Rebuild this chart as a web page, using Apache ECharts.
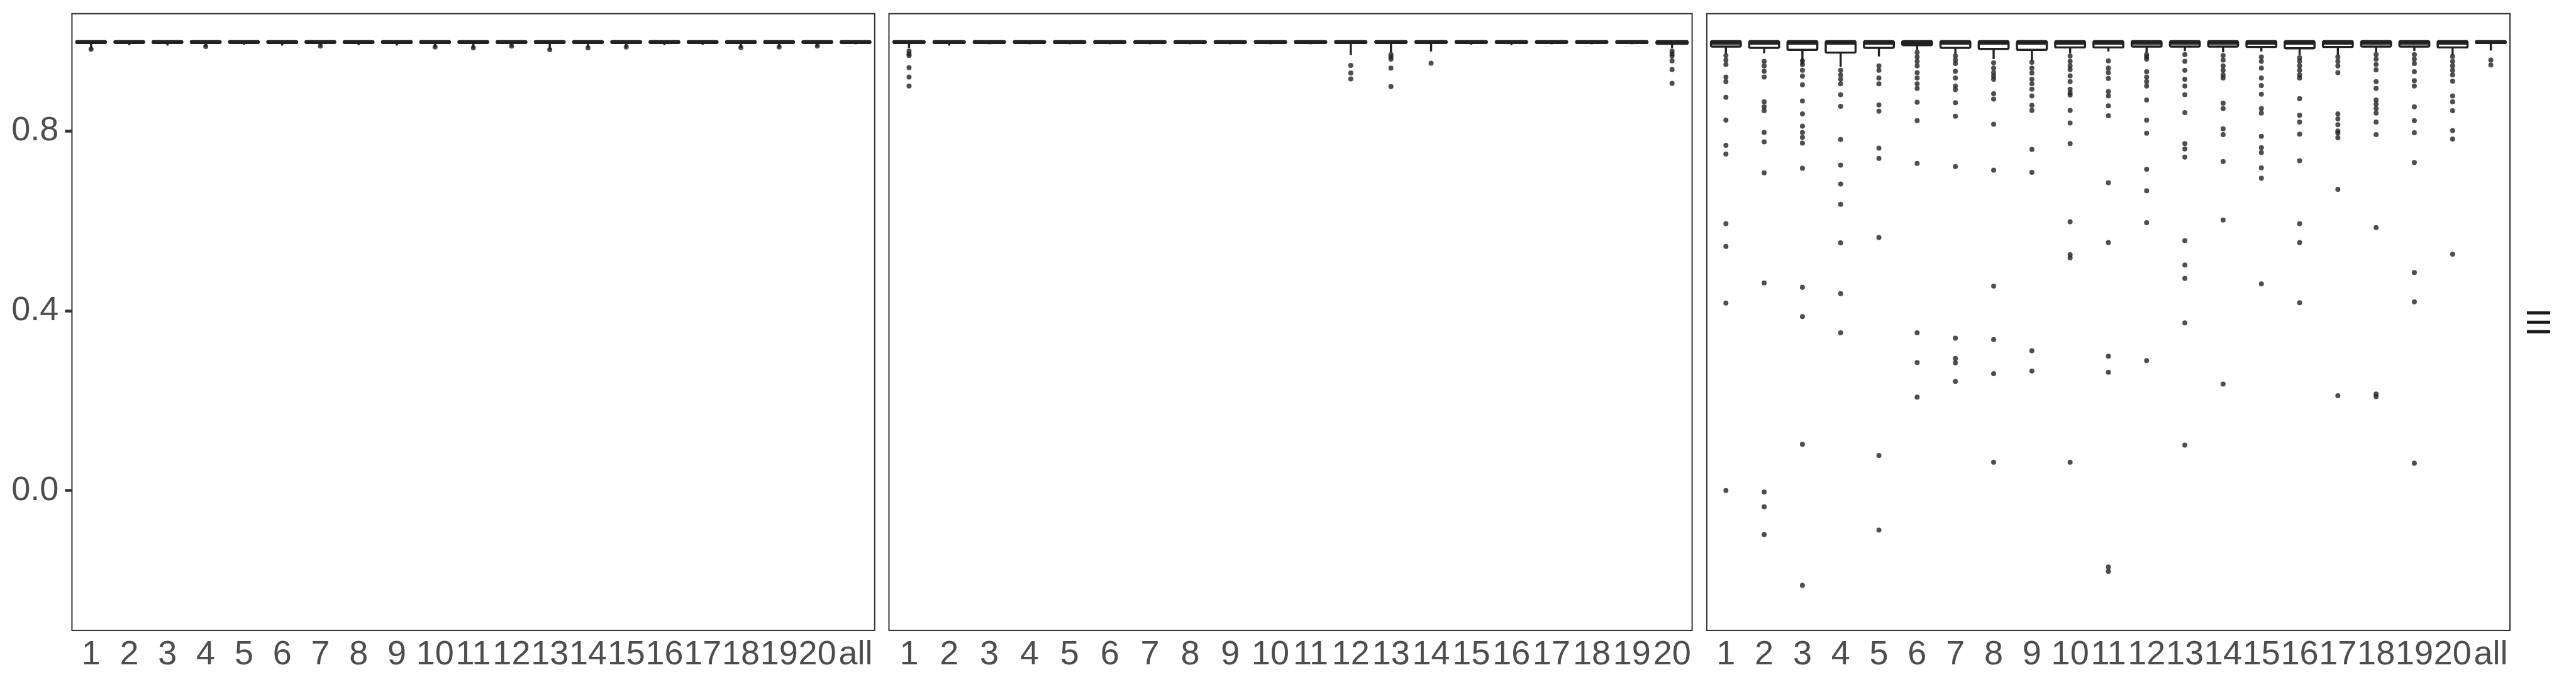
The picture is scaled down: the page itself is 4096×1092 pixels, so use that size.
<!DOCTYPE html>
<html><head><meta charset="utf-8">
<script src="https://cdn.jsdelivr.net/npm/echarts@6/dist/echarts.min.js"></script>
<style>html,body{margin:0;padding:0;background:#fff}#c{width:4096px;height:1092px}</style>
</head><body><div id="c"></div>
<script>
// ---------- categories & ticks ----------
const cats20 = ['1','2','3','4','5','6','7','8','9','10','11','12','13','14','15','16','17','18','19','20'];
const catsAll = cats20.concat(['all']);
const yTicks = [0, 0.4, 0.8];
const stripLabel = 'III';

// ---------- panel 1 (21 groups) ----------
const p1Low  = [0.981,0.991,0.990,0.987,0.992,0.990,0.988,0.991,0.990,0.986,0.984,0.988,0.980,0.984,0.986,0.991,0.992,0.985,0.986,0.988,0.993];
const p1Q1   = [0.996,0.996,0.996,0.996,0.996,0.996,0.996,0.996,0.996,0.996,0.996,0.996,0.996,0.996,0.996,0.996,0.996,0.996,0.996,0.996,0.996];
const p1Med  = [0.998,0.998,0.998,0.998,0.998,0.998,0.998,0.998,0.998,0.998,0.998,0.998,0.998,0.998,0.998,0.998,0.998,0.998,0.998,0.998,0.998];
const p1Q3   = [1,1,1,1,1,1,1,1,1,1,1,1,1,1,1,1,1,1,1,1,1];
const p1High = [1,1,1,1,1,1,1,1,1,1,1,1,1,1,1,1,1,1,1,1,1];
const p1Out  = [[0.982],[],[],[0.988],[],[],[0.989],[],[],[0.987],[0.985],[0.989],[0.981],[0.985],[0.987],[],[],[0.986],[0.987],[0.989],[]];

// ---------- panel 2 (20 groups) ----------
const p2Low  = [0.985,0.990,0.993,0.993,0.993,0.993,0.993,0.993,0.993,0.993,0.993,0.969,0.975,0.977,0.992,0.991,0.993,0.993,0.993,0.985];
const p2Q1   = [0.996,0.996,0.996,0.996,0.996,0.996,0.996,0.996,0.996,0.996,0.996,0.996,0.996,0.996,0.996,0.996,0.996,0.996,0.996,0.994];
const p2Med  = [0.998,0.998,0.998,0.998,0.998,0.998,0.998,0.998,0.998,0.998,0.998,0.998,0.998,0.998,0.998,0.998,0.998,0.998,0.998,0.998];
const p2Q3   = [1,1,1,1,1,1,1,1,1,1,1,1,1,1,1,1,1,1,1,1];
const p2High = [1,1,1,1,1,1,1,1,1,1,1,1,1,1,1,1,1,1,1,1];
const p2Out  = [
  [0.978,0.972,0.968,0.941,0.920,0.900],[],[],[],[],[],[],[],[],[],[],
  [0.946,0.929,0.916],
  [0.970,0.965,0.960,0.940,0.899],
  [0.951],
  [],[],[],[],[],
  [0.978,0.972,0.967,0.956,0.937,0.906]
];

// ---------- panel 3 (21 groups) ----------
const p3Low  = [0.973,0.973,0.948,0.943,0.966,0.980,0.971,0.960,0.956,0.973,0.977,0.975,0.978,0.975,0.977,0.969,0.969,0.975,0.978,0.969,0.979];
const p3Q1   = [0.988,0.985,0.9805,0.9745,0.985,0.991,0.985,0.9826,0.9805,0.986,0.986,0.988,0.988,0.988,0.987,0.984,0.987,0.988,0.988,0.986,0.9958];
const p3Med  = [0.996,0.996,0.996,0.996,0.996,0.996,0.996,0.996,0.996,0.996,0.996,0.996,0.996,0.996,0.996,0.996,0.996,0.996,0.996,0.996,0.998];
const p3Q3   = [1,1,1,1,1,1,1,1,1,1,1,1,1,1,1,1,1,1,1,1,1];
const p3High = [1,1,1,1,1,1,1,1,1,1,1,1,1,1,1,1,1,1,1,1,1];
const p3Out  = [
  [0.968,0.958,0.948,0.920,0.910,0.875,0.824,0.768,0.749,0.594,0.543,0.417,0.000],
  [0.955,0.945,0.933,0.920,0.865,0.854,0.845,0.797,0.776,0.707,0.462,-0.003,-0.036,-0.098],
  [0.956,0.948,0.935,0.922,0.903,0.867,0.838,0.811,0.797,0.786,0.773,0.717,0.452,0.387,0.103,-0.211],
  [0.935,0.925,0.915,0.905,0.881,0.855,0.781,0.724,0.682,0.637,0.551,0.438,0.351],
  [0.945,0.935,0.918,0.905,0.858,0.844,0.762,0.739,0.563,0.078,-0.088],
  [0.975,0.965,0.955,0.945,0.930,0.918,0.905,0.895,0.864,0.823,0.728,0.351,0.285,0.208],
  [0.967,0.958,0.950,0.933,0.918,0.900,0.892,0.863,0.833,0.721,0.339,0.294,0.284,0.243],
  [0.952,0.940,0.930,0.922,0.915,0.883,0.871,0.815,0.713,0.455,0.336,0.260,0.063],
  [0.953,0.940,0.929,0.915,0.905,0.893,0.878,0.857,0.846,0.759,0.708,0.311,0.266],
  [0.967,0.955,0.945,0.937,0.923,0.910,0.893,0.885,0.880,0.846,0.818,0.772,0.598,0.525,0.518,0.063],
  [0.956,0.940,0.930,0.917,0.888,0.878,0.856,0.834,0.685,0.552,0.299,0.263,-0.170,-0.180],
  [0.970,0.965,0.960,0.932,0.920,0.910,0.900,0.869,0.824,0.795,0.715,0.667,0.596,0.289],
  [0.970,0.955,0.935,0.915,0.900,0.881,0.841,0.772,0.760,0.742,0.556,0.502,0.472,0.373,0.101],
  [0.968,0.958,0.945,0.935,0.925,0.918,0.862,0.850,0.805,0.792,0.732,0.602,0.237],
  [0.965,0.955,0.940,0.918,0.901,0.882,0.850,0.840,0.788,0.763,0.752,0.718,0.695,0.460],
  [0.963,0.955,0.945,0.935,0.925,0.918,0.872,0.835,0.820,0.793,0.734,0.594,0.552,0.418],
  [0.965,0.955,0.945,0.930,0.838,0.827,0.814,0.800,0.795,0.785,0.670,0.211],
  [0.970,0.960,0.948,0.936,0.910,0.895,0.869,0.860,0.850,0.840,0.820,0.792,0.585,0.215,0.209],
  [0.970,0.960,0.950,0.932,0.912,0.900,0.854,0.823,0.796,0.730,0.485,0.420,0.061],
  [0.966,0.955,0.945,0.935,0.925,0.911,0.878,0.865,0.845,0.801,0.782,0.526],
  [0.958,0.947]
];

// ---------- rendering ----------
const INK = '#222222';
const TXT = '#4d4d4d';
const FONT = "'Liberation Sans', Arial, Helvetica, sans-serif";
const FS = 54;
const Y_MIN = -0.311, Y_MAX = 1.061;
const LW = 3.4;

function boxData(lo, q1, md, q3, hi) {
  return lo.map((v, i) => [i, v, q1[i], md[i], q3[i], hi[i]]);
}
function outData(out) {
  const r = [];
  out.forEach((arr, i) => arr.forEach(v => r.push([i, v])));
  return r;
}
function renderBox(params, api) {
  const x = api.value(0);
  const lo = api.coord([x, api.value(1)]);
  const q1 = api.coord([x, api.value(2)]);
  const md = api.coord([x, api.value(3)]);
  const q3 = api.coord([x, api.value(4)]);
  const hi = api.coord([x, api.value(5)]);
  const bw = api.size([1, 0])[0] * 0.78;
  const cx = q1[0];
  const ls = {stroke: INK, lineWidth: LW, lineJoin: 'round', lineCap: 'butt'};
  return {type: 'group', children: [
    {type: 'line', shape: {x1: cx, y1: q1[1], x2: cx, y2: lo[1]}, style: ls},
    {type: 'line', shape: {x1: cx, y1: q3[1], x2: cx, y2: hi[1]}, style: ls},
    {type: 'rect', shape: {x: cx - bw / 2, y: q3[1], width: bw, height: Math.max(q1[1] - q3[1], 0.5), r: 2},
      style: {fill: '#fff', stroke: INK, lineWidth: LW, lineJoin: 'round'}},
    {type: 'line', shape: {x1: cx - bw / 2, y1: md[1], x2: cx + bw / 2, y2: md[1]},
      style: {stroke: INK, lineWidth: LW * 1.7, lineCap: 'butt'}}
  ]};
}

const grids = [
  {left: 114.4, top: 21.8, width: 1276.4, height: 980.1},
  {left: 1413.5, top: 21.8, width: 1277.1, height: 980.1},
  {left: 2713.9, top: 21.8, width: 1277.1, height: 980.1}
].map(g => Object.assign(g, {show: true, borderColor: '#333333', borderWidth: 2, backgroundColor: '#fff'}));

const xCats = [catsAll, cats20, catsAll];
const xAxes = xCats.map((c, i) => ({
  type: 'category', gridIndex: i, data: c,
  axisLine: {show: false}, axisTick: {show: false}, splitLine: {show: false},
  axisLabel: {interval: 0, fontSize: FS, color: TXT, fontFamily: FONT, margin: 12, hideOverlap: false}
}));
const yAxes = [0, 1, 2].map(i => ({
  type: 'value', gridIndex: i, min: Y_MIN, max: Y_MAX,
  splitLine: {show: false},
  axisLine: {show: false},
  axisTick: {show: i === 0, length: 11, lineStyle: {color: '#333333', width: 4.5}, customValues: yTicks},
  axisLabel: {show: i === 0, fontSize: FS, color: TXT, fontFamily: FONT, margin: 21,
    customValues: yTicks, formatter: v => Number(v).toFixed(1)}
}));

const panels = [
  {box: boxData(p1Low, p1Q1, p1Med, p1Q3, p1High), out: outData(p1Out)},
  {box: boxData(p2Low, p2Q1, p2Med, p2Q3, p2High), out: outData(p2Out)},
  {box: boxData(p3Low, p3Q1, p3Med, p3Q3, p3High), out: outData(p3Out)}
];
const series = [];
panels.forEach((p, i) => {
  series.push({
    type: 'scatter', xAxisIndex: i, yAxisIndex: i, data: p.out,
    symbol: 'circle', symbolSize: 8, itemStyle: {color: INK}, silent: true, z: 2
  });
  series.push({
    type: 'custom', xAxisIndex: i, yAxisIndex: i, data: p.box,
    encode: {x: 0, y: [1, 2, 3, 4, 5]}, renderItem: renderBox, silent: true, z: 3
  });
});

const chart = echarts.init(document.getElementById('c'), null, {renderer: 'canvas'});
chart.setOption({
  animation: false,
  backgroundColor: '#fff',
  grid: grids,
  xAxis: xAxes,
  yAxis: yAxes,
  series: series,
  graphic: [{
    type: 'text', x: 4033, y: 512.3, rotation: -Math.PI / 2,
    style: {text: stripLabel, fontSize: FS, fontFamily: FONT, fill: '#1a1a1a', align: 'center', verticalAlign: 'middle'}
  }]
});
</script>
</body></html>
